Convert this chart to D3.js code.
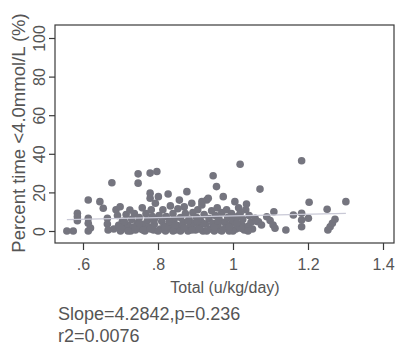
<!DOCTYPE html>
<html>
<head>
<meta charset="utf-8">
<script src="https://cdn.jsdelivr.net/npm/d3@7"></script>
<style>
  html, body { margin: 0; padding: 0; background: #fff; }
  svg { display: block; font-family: "Liberation Sans", Arial, sans-serif; }
</style>
</head>
<body>
<svg id="chart" width="398" height="350"></svg>
<script>
// ---- data ----
const totalDose = [
  0.557,0.574,0.585,0.585,0.585,0.614,0.614,0.614,0.614,0.62,
  0.645,0.654,0.665,0.665,0.667,0.677,0.682,0.688,0.692,0.695,
  0.699,0.70,0.705,0.71,0.715,0.72,0.725,0.727,0.73,0.733,
  0.737,0.74,0.745,0.747,0.747,0.75,0.755,0.758,0.76,0.765,
  0.768,0.772,0.776,0.779,0.779,0.779,0.782,0.785,0.788,0.79,
  0.793,0.797,0.801,0.803,0.806,0.81,0.813,0.816,0.82,0.822,
  0.827,0.83,0.833,0.836,0.84,0.843,0.847,0.85,0.853,0.857,
  0.86,0.863,0.867,0.87,0.873,0.877,0.88,0.883,0.887,0.89,
  0.893,0.897,0.90,0.903,0.906,0.91,0.913,0.917,0.917,0.92,
  0.923,0.927,0.93,0.934,0.936,0.94,0.943,0.946,0.947,0.95,
  0.953,0.956,0.958,0.96,0.963,0.966,0.97,0.974,0.977,0.98,
  0.983,0.986,0.99,0.993,0.996,1.0,1.005,1.008,1.012,1.015,
  1.019,1.019,1.023,1.026,1.03,1.034,1.036,1.04,1.043,1.048,
  1.052,1.059,1.063,1.068,1.072,1.076,1.09,1.099,1.107,1.109,
  1.112,1.141,1.161,1.183,1.183,1.183,1.183,1.201,1.203,1.251,
  1.253,1.259,1.265,1.272,1.301,
  0.72,0.76,0.80,0.84,0.86,0.89,0.93,0.97,1.0,1.04,
  0.70,0.74,0.78,0.82,0.87,0.91,0.95,0.99,1.02,
  0.71,0.75,0.79,0.83,0.88,0.92,0.96,1.01,0.845,0.905
];
const pctTimeLow = [
  0,0,9.2,7.4,5.3,16.1,6.6,4.0,0,1.5,
  15.2,11.8,6.6,3.6,0.5,25,1,11,8,3,
  12.6,0,5,1.5,8.5,3,10.9,0,6,2,
  9,0.5,4,24.8,29.6,7,1,12,3.5,0,
  9,5.5,2,19.6,17,30,11,7.5,0.5,3.5,
  14.4,30.8,17.8,8,1,5,11,2.5,0,7.5,
  19.2,4,13,1,9,6,0.5,3,11.5,16,
  7,1.5,4.5,12.5,9,20.4,0,6,2.5,14.4,
  9.5,4,0.5,7,11,2,5.5,13.5,15.2,0,
  8.5,3.5,16.1,17,6.5,1,10.5,4,28.6,0,
  8,23,12,2.5,6,0.5,9.5,17.8,4.5,1.5,
  11,7,0,3.5,9,5.5,15.2,1,7.5,12,
  34.6,9.2,3.1,6,0.5,11,14,2.5,8,4.5,
  1,6.6,5,4.8,21.7,3.1,7.4,5.4,3.1,10.0,
  1.4,0.5,8.3,9.2,5.7,2.2,36.4,6.6,14.9,11.3,
  0.5,2.2,4,6.1,15.2,
  0,0.5,0,0,0,0.5,0,0,0,0,
  2,2,1,2,1.5,1,2,2,1.5,
  5,4,6,5,5,4,5,4,3,5
];
const xTicks = [0.6, 0.8, 1.0, 1.2, 1.4];
const xTickLabels = [".6", ".8", "1", "1.2", "1.4"];
const yTicks = [0, 20, 40, 60, 80, 100];
const fitSlope = 4.2842;
const fitIntercept = 3.53;
const xTitle = "Total (u/kg/day)";
const yTitle = "Percent time <4.0mmol/L (%)";
const statLines = ["Slope=4.2842,p=0.236", "r2=0.0076"];

// ---- drawing ----
const svg = d3.select("#chart");
const box = { left: 55, right: 394, top: 25, bottom: 243 };
const x = d3.scaleLinear().domain([0.6, 1.4]).range([83, 383]);
const y = d3.scaleLinear().domain([0, 100]).range([231, 38]);
const axisColor = "#3a3a3a";
const textColor = "#555";

// frame
svg.append("rect")
  .attr("x", box.left).attr("y", box.top)
  .attr("width", box.right - box.left).attr("height", box.bottom - box.top)
  .attr("fill", "none").attr("stroke", axisColor).attr("stroke-width", 1.2);

// x axis
const xAxis = d3.axisBottom(x).tickValues(xTicks)
  .tickFormat((d, i) => xTickLabels[i]).tickSize(7).tickPadding(9);
const gx = svg.append("g").attr("transform", `translate(0,${box.bottom})`).call(xAxis);
gx.select(".domain").remove();
gx.selectAll(".tick line").attr("stroke", axisColor).attr("stroke-width", 1.2);
gx.selectAll(".tick text").attr("fill", textColor)
  .attr("font-size", 16).attr("font-family", "Liberation Sans, Arial, sans-serif");

// y axis
const yAxis = d3.axisLeft(y).tickValues(yTicks).tickSize(6).tickPadding(0);
const gy = svg.append("g").attr("transform", `translate(${box.left},0)`).call(yAxis);
gy.select(".domain").remove();
gy.selectAll(".tick line").attr("stroke", axisColor).attr("stroke-width", 1.2);
gy.selectAll(".tick text")
  .attr("fill", textColor).attr("font-size", 16)
  .attr("font-family", "Liberation Sans, Arial, sans-serif")
  .attr("x", null).attr("dy", null)
  .attr("text-anchor", "middle")
  .attr("transform", "translate(-10,0) rotate(-90)");

// points
const pts = totalDose.map((d, i) => ({ x: d, y: pctTimeLow[i] }));
svg.append("g").selectAll("circle").data(pts).join("circle")
  .attr("cx", d => x(d.x)).attr("cy", d => y(d.y))
  .attr("r", 3.8).attr("fill", "#75757f");

// fit line
const xMin = d3.min(totalDose), xMax = d3.max(totalDose);
svg.append("line")
  .attr("x1", x(xMin)).attr("y1", y(fitIntercept + fitSlope * xMin))
  .attr("x2", x(xMax)).attr("y2", y(fitIntercept + fitSlope * xMax))
  .attr("stroke", "#c9c9d6").attr("stroke-width", 1.2);

// axis titles
svg.append("text")
  .attr("x", 225).attr("y", 293)
  .attr("text-anchor", "middle").attr("font-size", 16).attr("fill", textColor)
  .text(xTitle);
svg.append("text")
  .attr("transform", "translate(25,133) rotate(-90)")
  .attr("text-anchor", "middle").attr("font-size", 18.5).attr("fill", textColor)
  .text(yTitle);

// stats annotation
svg.append("g").selectAll("text").data(statLines).join("text")
  .attr("x", 58).attr("y", (d, i) => 320 + i * 22)
  .attr("font-size", 18).attr("fill", textColor)
  .text(d => d);
</script>
</body>
</html>
